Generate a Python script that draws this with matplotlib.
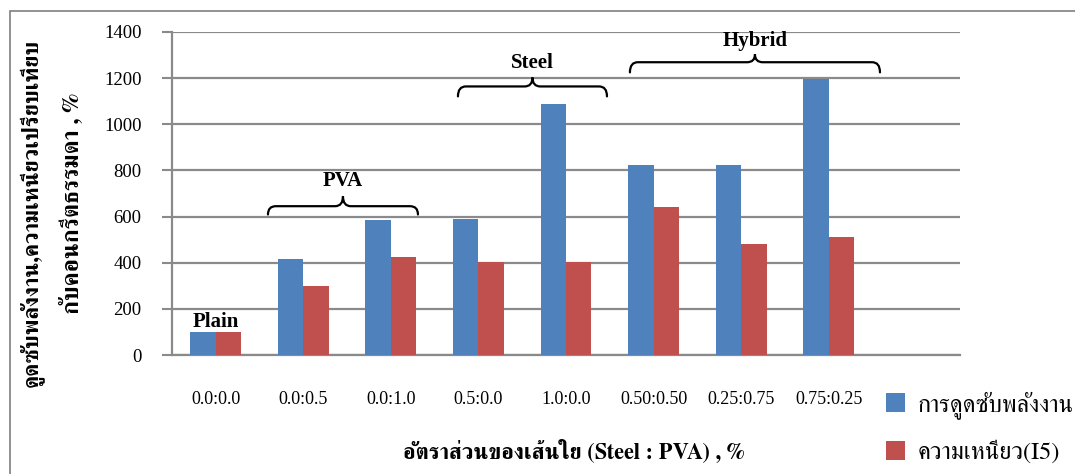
"""Energy absorption and toughness of fibre-reinforced concrete relative to plain concrete."""

import numpy as np
import matplotlib
matplotlib.use("Agg")
from matplotlib import pyplot as plt
from matplotlib.path import Path
from matplotlib.patches import PathPatch, Rectangle

plt.rcParams['font.family'] = ['Liberation Serif', 'FreeSerif']
THAI = ['FreeSerif', 'Liberation Serif']

# fibre ratios (Steel : PVA); last slot of the category axis is left empty
ratios = ['0.0:0.0', '0.0:0.5', '0.0:1.0', '0.5:0.0', '1.0:0.0',
          '0.50:0.50', '0.25:0.75', '0.75:0.25']
energy = [100, 418, 583, 588, 1087, 824, 822, 1196]
toughness = [100, 300, 426, 404, 404, 643, 481, 511]

groups = ['Plain', 'PVA', 'Steel', 'Hybrid']

BLUE = '#4f81bd'
RED = '#c0504d'
GRID = '#8a8a8a'


def draw_brace(ax, x0, x1, y_end, y_mid, y_tip, r=0.09):
    xc = (x0 + x1) / 2
    verts = [(x0, y_end), (x0, y_mid), (x0 + r, y_mid),
             (xc - r, y_mid), (xc, y_mid), (xc, y_tip),
             (xc, y_mid), (xc + r, y_mid),
             (x1 - r, y_mid), (x1, y_mid), (x1, y_end)]
    codes = [Path.MOVETO, Path.CURVE3, Path.CURVE3,
             Path.LINETO, Path.CURVE3, Path.CURVE3,
             Path.CURVE3, Path.CURVE3,
             Path.LINETO, Path.CURVE3, Path.CURVE3]
    ax.add_patch(PathPatch(Path(verts, codes), fill=False, lw=1.6,
                           edgecolor='black', capstyle='round'))


fig = plt.figure(figsize=(10.75, 4.74), dpi=100)
ax = fig.add_axes([172 / 1075, 1 - 355 / 474, 788 / 1075, 323 / 474])

x = np.arange(len(ratios))
w = 0.29
b1 = ax.bar(x - w / 2, energy, w, color=BLUE, zorder=3)
b2 = ax.bar(x + w / 2, toughness, w, color=RED, zorder=3)

ax.set_xlim(-0.5, len(ratios) + 0.5)
ax.set_ylim(0, 1400)
ax.set_yticks(np.arange(0, 1401, 200))
ax.set_xticks(x)
ax.set_xticklabels(ratios)
ax.tick_params(axis='x', length=0, pad=26, labelsize=13)
ax.tick_params(axis='y', length=7, width=1.5, color=GRID, pad=15, labelsize=13.5)
ax.yaxis.grid(True, color=GRID, lw=1.6, zorder=0)
ax.set_axisbelow(True)
for s in ['top', 'right']:
    ax.spines[s].set_visible(False)
for s in ['left', 'bottom']:
    ax.spines[s].set_color(GRID)
    ax.spines[s].set_linewidth(1.6)

# group braces and their names
draw_brace(ax, 0.596, 2.309, 609, 645, 688)
draw_brace(ax, 2.766, 4.468, 1121, 1164, 1203)
draw_brace(ax, 4.73, 7.586, 1225, 1269, 1303)
ax.text(0, 143, groups[0], ha='center', va='center', fontsize=15, fontweight='bold')
ax.text(1.45, 756, groups[1], ha='center', va='center', fontsize=15, fontweight='bold')
ax.text(3.62, 1264, groups[2], ha='center', va='center', fontsize=15, fontweight='bold')
ax.text(6.16, 1360, groups[3], ha='center', va='center', fontsize=15, fontweight='bold',
        clip_on=False)

# axis titles
fig.text(31 / 1075, 1 - 213 / 474, 'ดูดซับพลังงาน,ความเหนียวเปรียบเทียบ', rotation=90,
         ha='center', va='center', family=THAI, fontsize=16, fontweight='bold')
fig.text(72 / 1075, 1 - 203 / 474, 'กับคอนกรีตธรรมดา , %', rotation=90,
         ha='center', va='center', family=THAI, fontsize=17, fontweight='bold')
fig.text(574 / 1075, 1 - 452 / 474, 'อัตราส่วนของเส้นใย (Steel : PVA) , %',
         ha='center', va='center', family=THAI, fontsize=16, fontweight='bold')

leg = fig.legend([b1, b2], ['การดูดซับพลังงาน', 'ความเหนียว(I5)'],
                 loc='upper left', bbox_to_anchor=(876 / 1075, 1 - 381 / 474),
                 frameon=False, prop={'family': THAI, 'size': 17.5},
                 handlelength=0.8, handleheight=0.8, handletextpad=0.5,
                 labelspacing=0.9, borderaxespad=0)

# outer frame of the figure
fig.patches.append(Rectangle((10 / 1075, -0.1), 1.2, 1 - 11 / 474 + 0.1,
                             transform=fig.transFigure, fill=False,
                             edgecolor='#7f7f7f', lw=1.2))

fig.savefig('out.png', dpi=100)
